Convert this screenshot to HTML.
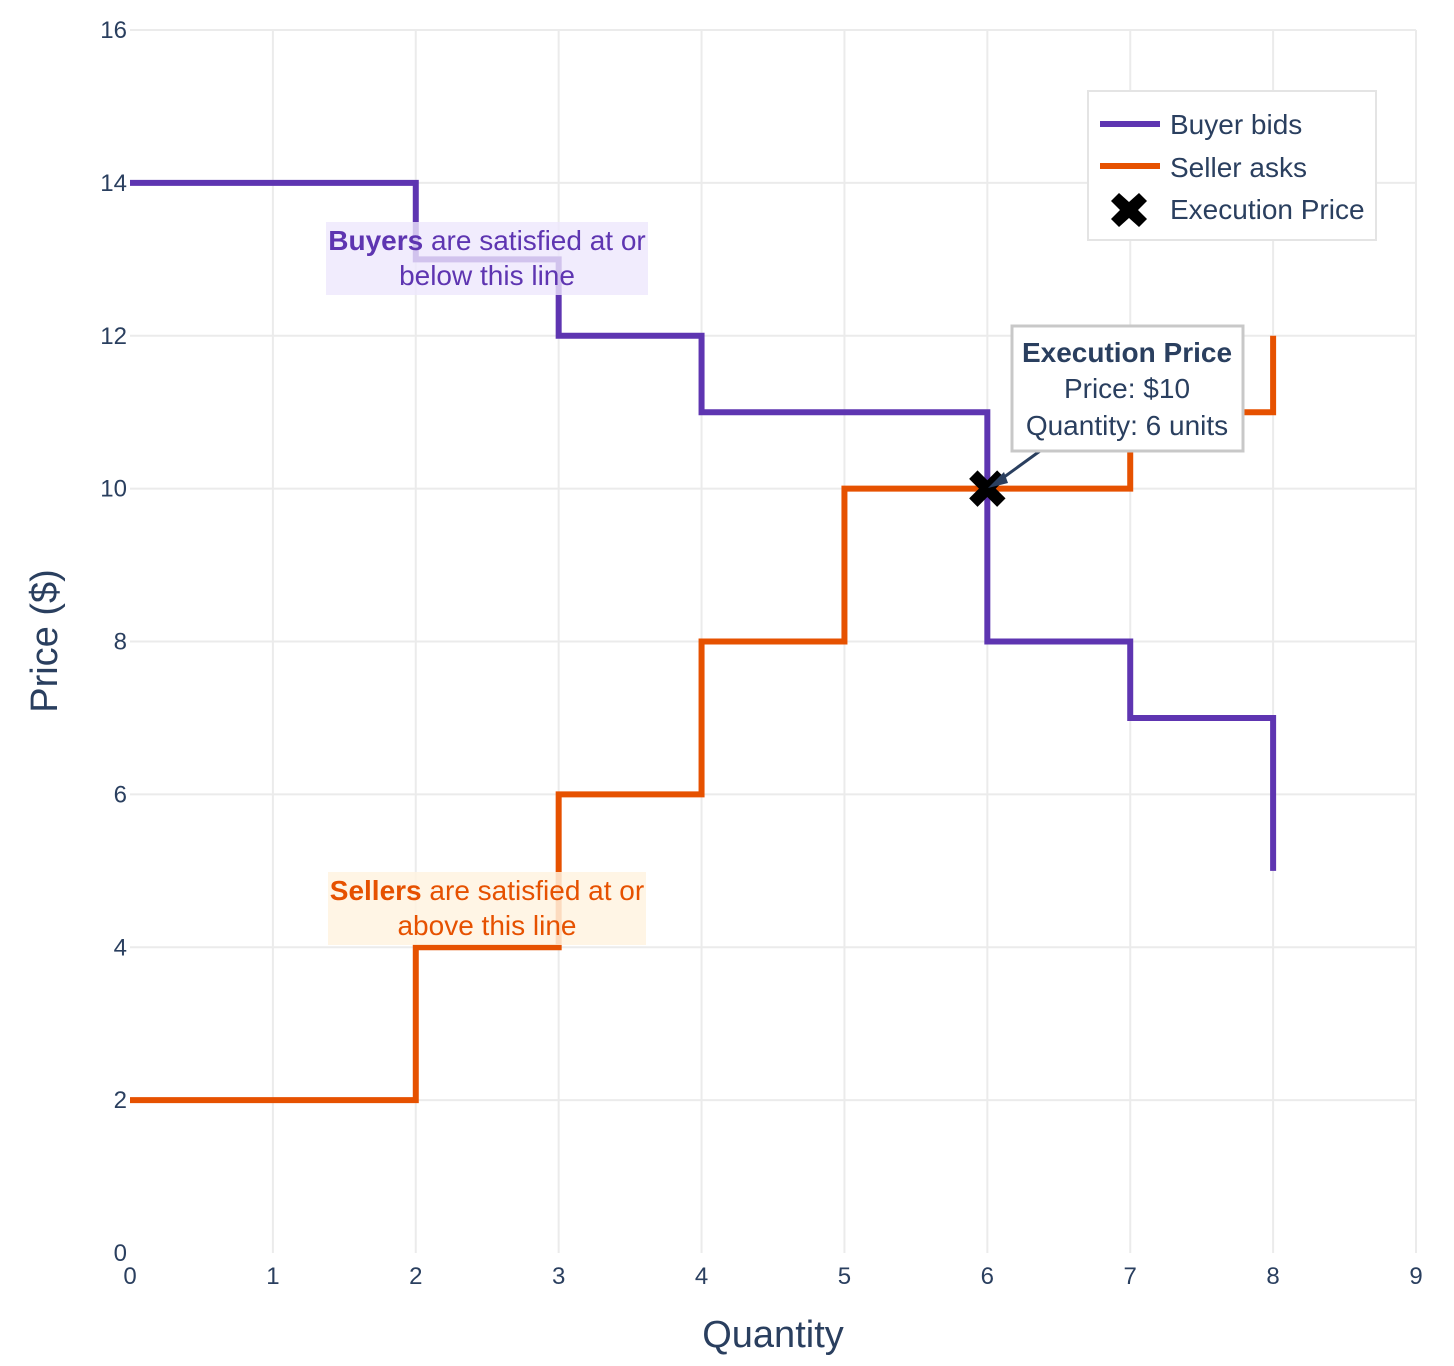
<!DOCTYPE html>
<html><head><meta charset="utf-8"><style>
body{margin:0;background:#fff}
text{font-family:"Liberation Sans",Arial,sans-serif}
</style></head><body>
<svg id="c" style="position:absolute;left:0;top:0" width="1454" height="1366" viewBox="0 0 1454 1366" xmlns="http://www.w3.org/2000/svg">
<g id="grid"></g><g id="ticks"></g><g id="series"></g><g id="ann"></g>
</svg>
<script>
const qty=[0,2,3,4,5,6,7,8];
const bids=[14,13,12,11,11,8,7,5];
const asks=[2,4,6,8,10,10,11,12];
const execQ=[6];const execP=[10];
const xTicks=[0,1,2,3,4,5,6,7,8,9];
const yTicks=[0,2,4,6,8,10,12,14,16];
const X=v=>130+v*(1416-130)/9;
const Y=v=>1253-v*(1253-30)/16;
const NS='http://www.w3.org/2000/svg';
function mk(tag,attrs,parent,txt){const e=document.createElementNS(NS,tag);for(const k in attrs)e.setAttribute(k,attrs[k]);if(txt!==undefined)e.textContent=txt;document.getElementById(parent).appendChild(e);return e;}
xTicks.forEach(t=>{if(t>0){const l=mk('line',{x1:X(t),x2:X(t),y1:30,y2:1253,stroke:'#ebebeb','stroke-width':2},'grid');}
 const tx=mk('text',{x:X(t),y:1284,'text-anchor':'middle','font-size':24,fill:'#2a3f5f'},'ticks',t);});
yTicks.forEach(t=>{if(t>0){const l=mk('line',{x1:130,x2:1416,y1:Y(t),y2:Y(t),stroke:'#ebebeb','stroke-width':2},'grid');}
 const tx=mk('text',{x:127,y:Y(t)+8,'text-anchor':'end','font-size':24,fill:'#2a3f5f'},'ticks',t);});
function hv(xs,ys){let d='M'+X(xs[0])+','+Y(ys[0]);for(let i=1;i<xs.length;i++){d+=' H'+X(xs[i])+' V'+Y(ys[i]);}return d;}
const pb=mk('path',{d:hv(qty,bids),fill:'none',stroke:'#5e35b1','stroke-width':6},'series');

const pa=mk('path',{d:hv(qty,asks),fill:'none',stroke:'#e65100','stroke-width':6},'series');

execQ.forEach((q,i)=>{const cx=X(q),cy=Y(execP[i]);const s=1.4;const p=[[-13,-7],[-7,-13],[0,-6],[7,-13],[13,-7],[6,0],[13,7],[7,13],[0,6],[-7,13],[-13,7],[-6,0]].map(a=>(cx+a[0]*s)+','+(cy+a[1]*s)).join(' ');const m=mk('polygon',{points:p,fill:'#000'},'series');});
</script>
<svg style="position:absolute;left:0;top:0" width="1454" height="1366" xmlns="http://www.w3.org/2000/svg">
<g>
<rect x="326" y="222" width="322" height="73" fill="#ede7fd" fill-opacity="0.8"/>
<text x="487" y="250" text-anchor="middle" font-size="28" fill="#5e35b1"><tspan font-weight="bold">Buyers</tspan> are satisfied at or</text>
<text x="487" y="285" text-anchor="middle" font-size="28" fill="#5e35b1">below this line</text>
</g>
<g>
<rect x="328" y="872" width="318" height="73" fill="#fff3e0" fill-opacity="0.85"/>
<text x="487" y="900" text-anchor="middle" font-size="28" fill="#e65100"><tspan font-weight="bold">Sellers</tspan> are satisfied at or</text>
<text x="487" y="935" text-anchor="middle" font-size="28" fill="#e65100">above this line</text>
</g>
<g>
<line x1="1040" y1="451" x2="1000" y2="480" stroke="#2a3f5f" stroke-width="3"/>
<polygon points="988,488 1004,472 1008,483" fill="#2a3f5f"/>
<rect x="1012" y="326" width="231" height="125" fill="#fff" stroke="#c8c8c8" stroke-width="3"/>
<text x="1127" y="362" text-anchor="middle" font-size="28" font-weight="bold" fill="#2a3f5f">Execution Price</text>
<text x="1127" y="398" text-anchor="middle" font-size="28" fill="#2a3f5f">Price: $10</text>
<text x="1127" y="435" text-anchor="middle" font-size="28" fill="#2a3f5f">Quantity: 6 units</text>
</g>
<g>
<rect x="1088" y="91" width="288" height="149" fill="#fff" stroke="#e4e4e4" stroke-width="2"/>
<g><line x1="1100" y1="124" x2="1160" y2="124" stroke="#5e35b1" stroke-width="6"/><text x="1170" y="134" font-size="28" fill="#2a3f5f">Buyer bids</text></g>
<g><line x1="1100" y1="166" x2="1160" y2="166" stroke="#e65100" stroke-width="6"/><text x="1170" y="177" font-size="28" fill="#2a3f5f">Seller asks</text></g>
<g><polygon points="1111,201 1119,193 1129,202 1139,193 1147,201 1138,210 1147,219 1139,227 1129,218 1119,227 1111,219 1120,210" fill="#000"/><text x="1170" y="219" font-size="28" fill="#2a3f5f">Execution Price</text></g>
</g>
<text x="773" y="1347" text-anchor="middle" font-size="38" fill="#2a3f5f">Quantity</text>
<text transform="translate(57,641) rotate(-90)" text-anchor="middle" font-size="38" fill="#2a3f5f">Price ($)</text>
</svg>
</body></html>
